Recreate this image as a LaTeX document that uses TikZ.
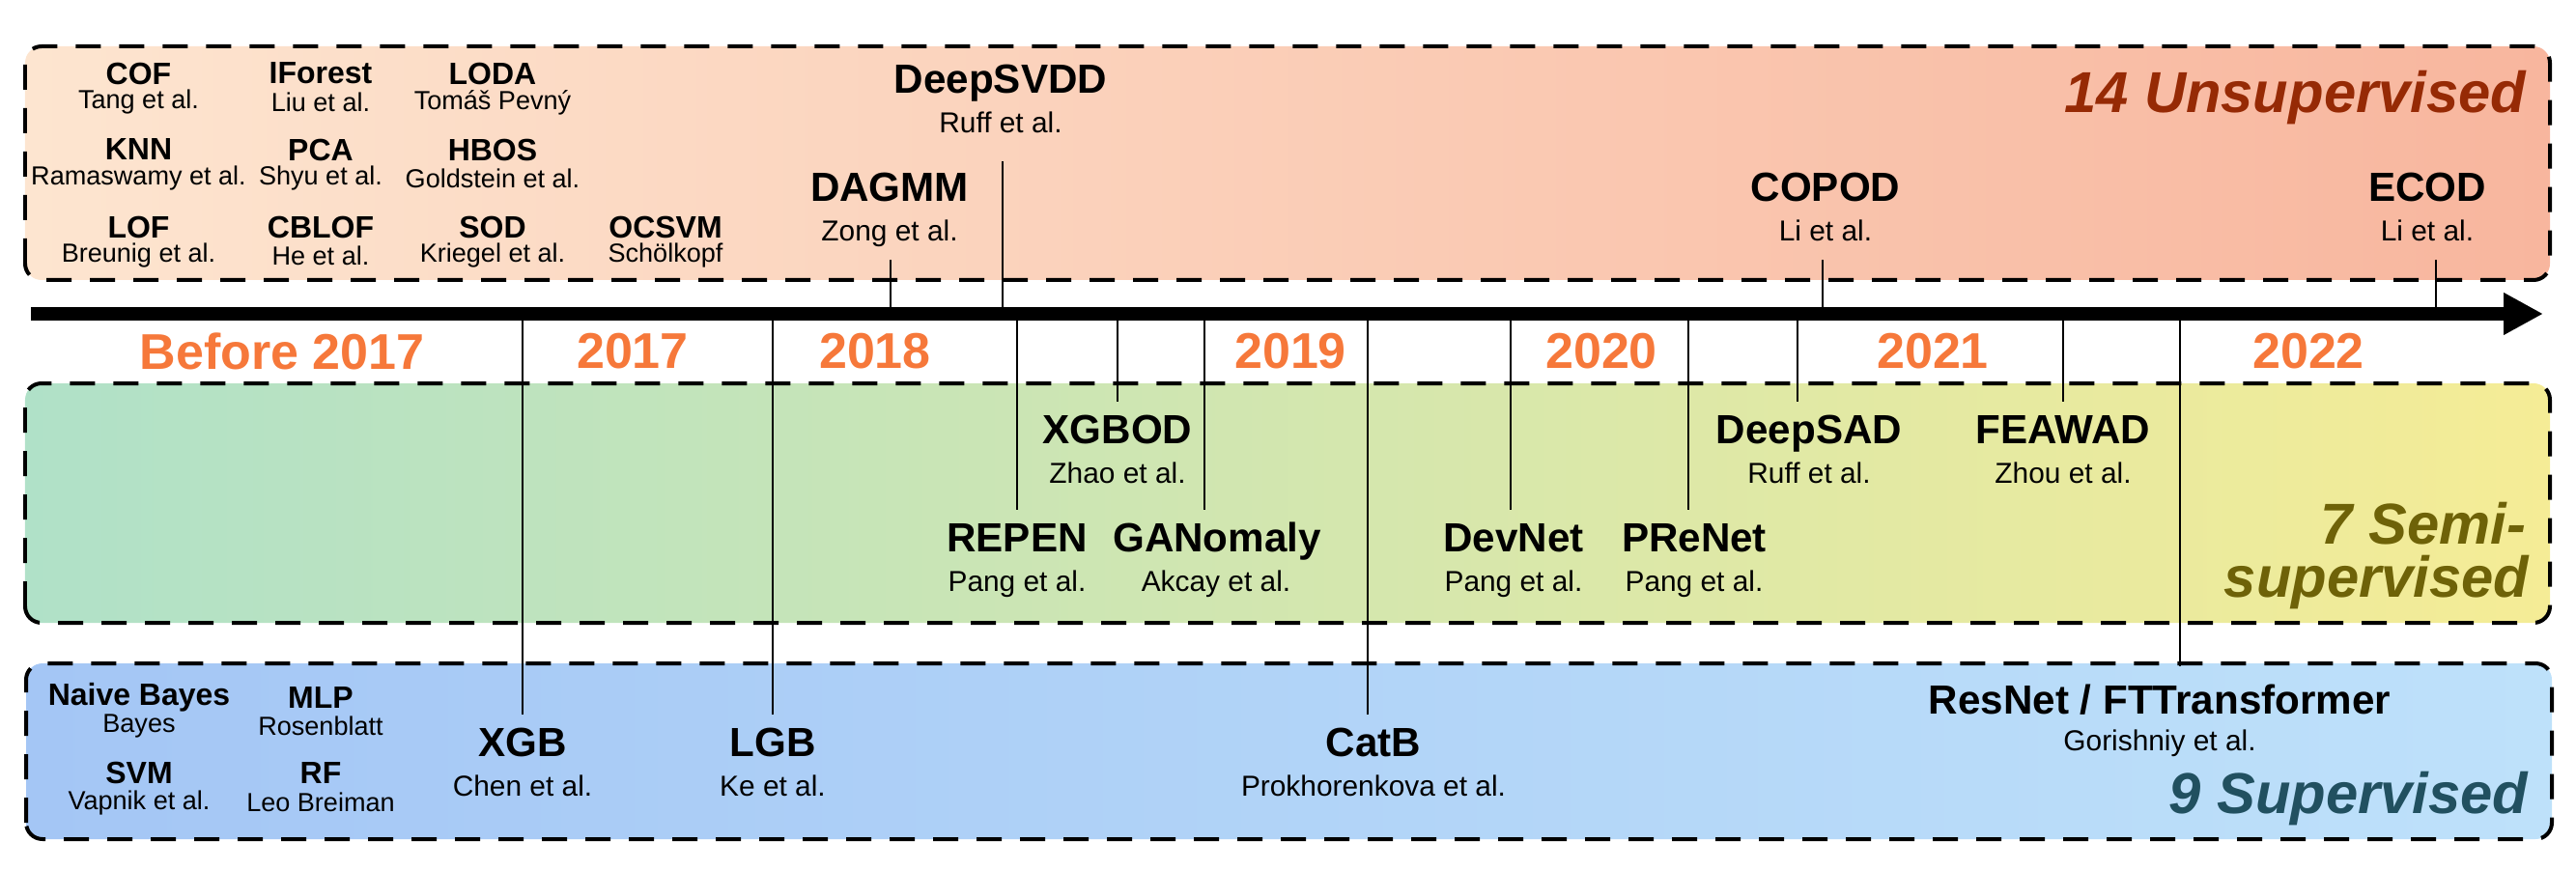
\documentclass[tikz,border=0pt]{standalone}
\usepackage{fontspec}
\setmainfont{Liberation Sans}
\usetikzlibrary{arrows.meta}
\definecolor{unsupL}{RGB}{253,229,208}
\definecolor{unsupR}{RGB}{248,182,158}
\definecolor{semiL}{RGB}{176,225,200}
\definecolor{semiR}{RGB}{245,236,150}
\definecolor{supL}{RGB}{164,198,245}
\definecolor{supR}{RGB}{190,225,250}
\definecolor{yearorange}{RGB}{246,120,58}
\definecolor{unsuptext}{RGB}{150,42,5}
\definecolor{semitext}{RGB}{110,98,8}
\definecolor{suptext}{RGB}{33,80,96}

\begin{document}
\begin{tikzpicture}[
    groupbox/.style={dash pattern=on 2.6mm off 1.9mm, line width=0.04cm, rounded corners=1.7mm},
    stem/.style={line width=0.6pt},
    mname/.style={font=\bfseries\fontsize{12}{14}\selectfont, inner sep=3.3pt, text height=8.8pt, text depth=2.5pt},
    mref/.style={font=\fontsize{8.5}{10}\selectfont, inner sep=3.5pt, text height=6.3pt, text depth=1.8pt},
    sname/.style={font=\bfseries\fontsize{9.1}{11}\selectfont},
    sref/.style={font=\fontsize{7.7}{9}\selectfont},
    yearlabel/.style={font=\bfseries\fontsize{14.8}{17}\selectfont, text=yearorange},
    catlabel/.style={font=\bfseries\itshape\fontsize{17}{20}\selectfont, anchor=base east, inner sep=0pt}
]
    \useasboundingbox (0,0) rectangle (26.67,9);
    % the three groups
    \draw [groupbox, left color=unsupL, right color=unsupR] (0.26,6.10) rectangle (26.40,8.52);
    \draw [groupbox, left color=semiL, right color=semiR] (0.26,2.55) rectangle (26.40,5.03);
    \draw [groupbox, left color=supL, right color=supR] (0.27,0.31) rectangle (26.42,2.13);

    % unsupervised, before 2017
    \node [sname] (cof) at (1.435,8.24) {COF};
    \node [sref] (cofref) at (1.435,7.94) {Tang et al.};
    \node [sname] (iforest) at (3.32,8.24) {IForest};
    \node [sref] (iforestref) at (3.32,7.94) {Liu et al.};
    \node [sname] (loda) at (5.10,8.24) {LODA};
    \node [sref] (lodaref) at (5.10,7.94) {Tomáš Pevný};
    \node [sname] (knn) at (1.435,7.45) {KNN};
    \node [sref] (knnref) at (1.435,7.15) {Ramaswamy et al.};
    \node [sname] (pca) at (3.32,7.45) {PCA};
    \node [sref] (pcaref) at (3.32,7.15) {Shyu et al.};
    \node [sname] (hbos) at (5.10,7.45) {HBOS};
    \node [sref] (hbosref) at (5.10,7.15) {Goldstein et al.};
    \node [sname] (lof) at (1.435,6.65) {LOF};
    \node [sref] (lofref) at (1.435,6.35) {Breunig et al.};
    \node [sname] (cblof) at (3.32,6.65) {CBLOF};
    \node [sref] (cblofref) at (3.32,6.35) {He et al.};
    \node [sname] (sod) at (5.10,6.65) {SOD};
    \node [sref] (sodref) at (5.10,6.35) {Kriegel et al.};
    \node [sname] (ocsvm) at (6.89,6.65) {OCSVM};
    \node [sref] (ocsvmref) at (6.89,6.35) {Schölkopf};

    % unsupervised, on the timeline
    \node [mname] (deepsvdd) at (10.36,8.15) {DeepSVDD};
    \node [mref] (deepsvddref) at (10.36,7.70) {Ruff et al.};
    \node [mname] (dagmm) at (9.21,7.03) {DAGMM};
    \node [mref] (dagmmref) at (9.21,6.58) {Zong et al.};
    \node [mname] (copod) at (18.90,7.03) {COPOD};
    \node [mref] (copodref) at (18.90,6.58) {Li et al.};
    \node [mname] (ecod) at (25.13,7.03) {ECOD};
    \node [mref] (ecodref) at (25.13,6.58) {Li et al.};

    % semi-supervised
    \node [mname] (xgbod) at (11.57,4.52) {XGBOD};
    \node [mref] (xgbodref) at (11.57,4.07) {Zhao et al.};
    \node [mname] (deepsad) at (18.73,4.52) {DeepSAD};
    \node [mref] (deepsadref) at (18.73,4.07) {Ruff et al.};
    \node [mname] (feawad) at (21.36,4.52) {FEAWAD};
    \node [mref] (feawadref) at (21.36,4.07) {Zhou et al.};
    \node [mname] (repen) at (10.53,3.40) {REPEN};
    \node [mref] (repenref) at (10.53,2.95) {Pang et al.};
    \node [mname] (ganomaly) at (12.60,3.40) {GANomaly};
    \node [mref] (ganomalyref) at (12.59,2.95) {Akcay et al.};
    \node [mname] (devnet) at (15.67,3.40) {DevNet};
    \node [mref] (devnetref) at (15.67,2.95) {Pang et al.};
    \node [mname] (prenet) at (17.54,3.40) {PReNet};
    \node [mref] (prenetref) at (17.54,2.95) {Pang et al.};

    % supervised
    \node [sname] (nb) at (1.44,1.78) {Naive Bayes};
    \node [sref] (nbref) at (1.44,1.48) {Bayes};
    \node [sname] (mlp) at (3.32,1.78) {MLP};
    \node [sref] (mlpref) at (3.32,1.48) {Rosenblatt};
    \node [sname] (svm) at (1.44,1.00) {SVM};
    \node [sref] (svmref) at (1.44,0.69) {Vapnik et al.};
    \node [sname] (rf) at (3.32,1.00) {RF};
    \node [sref] (rfref) at (3.32,0.69) {Leo Breiman};
    \node [mname] (xgb) at (5.41,1.28) {XGB};
    \node [mref] (xgbref) at (5.41,0.83) {Chen et al.};
    \node [mname] (lgb) at (8.00,1.28) {LGB};
    \node [mref] (lgbref) at (8.00,0.83) {Ke et al.};
    \node [mname] (catb) at (14.22,1.28) {CatB};
    \node [mref] (catbref) at (14.22,0.83) {Prokhorenkova et al.};
    \node [mname] (resnet) at (22.36,1.72) {ResNet / FTTransformer};
    \node [mref] (resnetref) at (22.36,1.30) {Gorishniy et al.};

    % group names
    \node [catlabel, text=unsuptext] (unsup) at (26.16,7.83) {14 Unsupervised};
    \node [catlabel, text=semitext] (semi) at (26.16,3.37) {7 Semi-};
    \node [catlabel, text=semitext] (semib) at (26.19,2.82) {supervised};
    \node [catlabel, text=suptext] (sup) at (26.18,0.58) {9 Supervised};

    % years
    \node [yearlabel] (ybefore) at (2.92,5.36) {Before 2017};
    \node [yearlabel] (y2017) at (6.55,5.36) {2017};
    \node [yearlabel] (y2018) at (9.06,5.36) {2018};
    \node [yearlabel] (y2019) at (13.36,5.36) {2019};
    \node [yearlabel] (y2020) at (16.58,5.36) {2020};
    \node [yearlabel] (y2021) at (20.01,5.36) {2021};
    \node [yearlabel] (y2022) at (23.90,5.36) {2022};

    % stems from the timeline
    \coordinate (tdagmm) at (9.22,5.75);
    \coordinate (tdeepsvdd) at (10.38,5.75);
    \coordinate (tcopod) at (18.87,5.75);
    \coordinate (tecod) at (25.22,5.75);
    \coordinate (txgb) at (5.41,5.75);
    \coordinate (tlgb) at (8.00,5.75);
    \coordinate (trepen) at (10.53,5.75);
    \coordinate (txgbod) at (11.57,5.75);
    \coordinate (tganomaly) at (12.47,5.75);
    \coordinate (tcatb) at (14.16,5.75);
    \coordinate (tdevnet) at (15.64,5.75);
    \coordinate (tprenet) at (17.48,5.75);
    \coordinate (tdeepsad) at (18.61,5.75);
    \coordinate (tfeawad) at (21.36,5.75);
    \coordinate (tresnet) at (22.57,5.75);
    \draw [stem] (tdagmm) -- (tdagmm |- dagmmref.south);
    \draw [stem, shorten >=1mm] (tdeepsvdd) -- (tdeepsvdd |- deepsvddref.south);
    \draw [stem] (tcopod) -- (tcopod |- copodref.south);
    \draw [stem] (tecod) -- (tecod |- ecodref.south);
    \draw [stem] (txgb) -- (txgb |- xgb.north);
    \draw [stem] (tlgb) -- (tlgb |- lgb.north);
    \draw [stem] (trepen) -- (trepen |- repen.north);
    \draw [stem] (txgbod) -- (txgbod |- xgbod.north);
    \draw [stem] (tganomaly) -- (tganomaly |- ganomaly.north);
    \draw [stem] (tcatb) -- (tcatb |- catb.north);
    \draw [stem] (tdevnet) -- (tdevnet |- devnet.north);
    \draw [stem] (tprenet) -- (tprenet |- prenet.north);
    \draw [stem] (tdeepsad) -- (tdeepsad |- deepsad.north);
    \draw [stem] (tfeawad) -- (tfeawad |- feawad.north);
    \draw [stem, shorten >=0.6mm] (tresnet) -- (tresnet |- resnet.north);

    % timeline
    \coordinate (tstart) at (0.32,5.75);
    \coordinate (tend) at (26.33,5.75);
    \draw [line width=0.14cm, -{Triangle[length=4.1mm,width=4.1mm]}] (tstart) -- (tend);
\end{tikzpicture}
\end{document}
